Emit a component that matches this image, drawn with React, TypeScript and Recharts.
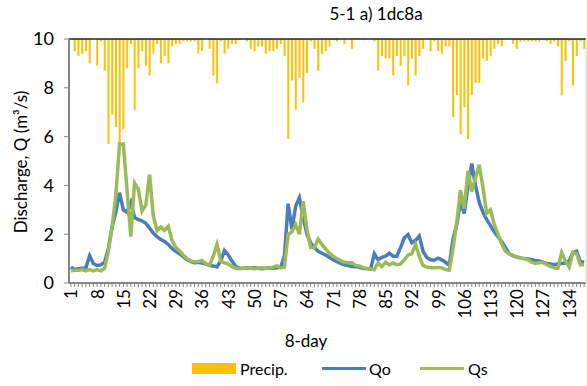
import * as React from 'react';
import { Bar, ComposedChart, Line, ReferenceLine, XAxis, YAxis } from 'recharts';

// 8-day periods 1..138
const periods = Array.from({ length: 138 }, (_, i) => i + 1);

// precipitation, drawn downward from the top (hidden reversed axis, 0-100)
const precip = [
  0, 5, 7, 6, 5, 10, 0, 11, 1, 13, 43, 31, 36, 44, 37, 12, 2, 29, 12, 5,
  11, 15, 6, 2, 10, 7, 10, 3, 2, 2, 1, 1, 1, 1, 6, 5, 0, 4, 15, 18,
  1, 6, 4, 2, 2, 0.5, 0, 1, 4, 5, 3, 3, 6, 5, 5, 4, 2, 7, 41, 17,
  29, 16, 26, 14, 1, 4, 13, 6, 5, 3, 0.5, 1, 0, 2, 0, 4, 0, 0, 0.5, 0,
  0, 1, 13, 7, 8, 8, 15, 7, 11, 7, 19, 8, 15, 7, 4, 0, 5, 1, 5, 6,
  3, 3, 32, 23, 39, 28, 41, 23, 18, 18, 8, 9, 7, 4, 2, 3, 0, 0, 2, 4,
  1, 1, 1, 1, 1, 1, 0.5, 1, 2, 1, 3, 23, 9, 1, 19, 7, 1, 4
];

// observed discharge
const qo = [
  0.65, 0.55, 0.58, 0.6, 0.62, 1.12, 0.8, 0.72, 0.74, 0.85, 1.4, 2.3, 2.9, 3.7, 3.0, 2.9, 3.3, 2.68, 2.6, 2.55,
  2.45, 2.25, 2.05, 1.9, 1.78, 1.7, 1.58, 1.42, 1.3, 1.2, 1.08, 0.95, 0.88, 0.83, 0.85, 0.82, 0.78, 0.72, 0.7, 0.66,
  0.9, 1.33, 1.15, 0.9, 0.68, 0.6, 0.6, 0.62, 0.6, 0.62, 0.6, 0.58, 0.6, 0.62, 0.6, 0.62, 0.65, 1.1, 3.25, 2.2,
  3.15, 3.5, 2.7, 2.0, 1.65, 1.45, 1.3, 1.22, 1.15, 1.05, 0.95, 0.87, 0.8, 0.75, 0.72, 0.68, 0.67, 0.64, 0.6, 0.58,
  0.57, 1.2, 0.95, 1.05, 1.1, 1.22, 1.1, 1.1, 1.45, 1.85, 1.98, 1.65, 1.75, 1.93, 1.3, 1.05, 0.95, 0.93, 1.02, 0.95,
  0.85, 0.72, 1.8, 2.4, 3.3, 2.85, 3.95, 4.9, 4.0, 3.3, 2.9, 2.6, 2.35, 2.1, 1.9, 1.7, 1.45, 1.2, 1.12, 1.06,
  1.03, 1.0, 0.98, 0.95, 0.92, 0.9, 0.85, 0.8, 0.78, 0.75, 0.78, 0.8, 0.82, 0.9, 1.25, 1.3, 0.88, 0.85
];

// simulated discharge
const qs = [
  0.5, 0.52, 0.52, 0.55, 0.5, 0.55, 0.5, 0.55, 0.5, 0.6, 1.3, 2.3, 3.6, 5.7, 5.7, 3.8, 1.9, 4.1, 3.85, 2.95,
  3.2, 4.45, 2.75, 2.15, 2.3, 2.15, 2.32, 1.75, 1.45, 1.32, 1.15, 1.0, 0.9, 0.87, 0.88, 0.92, 0.8, 0.72, 1.1, 1.58,
  0.9, 0.83, 0.78, 0.68, 0.6, 0.58, 0.6, 0.62, 0.6, 0.58, 0.6, 0.62, 0.6, 0.62, 0.65, 0.7, 0.62, 0.65, 2.0, 2.1,
  2.4, 2.0, 3.35, 2.2, 1.45, 1.45, 1.8, 1.58, 1.4, 1.22, 1.1, 1.0, 0.92, 0.85, 0.83, 0.83, 0.72, 0.7, 0.63, 0.6,
  0.57, 0.55, 0.83, 0.68, 0.85, 0.75, 0.82, 0.75, 0.78, 0.95, 1.15, 1.2, 1.58, 1.1, 0.72, 0.65, 0.63, 0.63, 0.64, 0.62,
  0.55, 0.52, 1.4, 2.5, 3.8, 3.05, 4.6, 3.75, 4.3, 4.85, 3.9, 2.85, 3.0, 2.4, 2.0, 1.6, 1.3, 1.2, 1.12, 1.08,
  1.03, 1.0, 0.95, 0.85, 0.8, 0.83, 0.85, 0.75, 0.68, 0.62, 0.6, 1.25, 0.9, 0.65, 1.25, 1.2, 0.75, 0.75
];

const yTicks = [0, 2, 4, 6, 8, 10];

const data = periods.map((d, i) => ({ day: d, p: precip[i], qo: qo[i], qs: qs[i] }));

const FONT = 'Lato, "Open Sans", sans-serif';

function DayTick(props: any) {
  const { x, y, payload } = props;
  const labelled = (payload.value - 1) % 7 === 0;
  return (
    <g>
      <line x1={x} x2={x} y1={y} y2={y + 4} stroke="#868686" strokeWidth={1} />
      {labelled && (
        <text
          x={x}
          y={y + 6}
          transform={`rotate(-90, ${x}, ${y + 6})`}
          textAnchor="end"
          dominantBaseline="central"
          fontSize={17}
          fontFamily={FONT}
          fill="#000"
        >
          {payload.value}
        </text>
      )}
    </g>
  );
}

export default function App() {
  return (
    <div style={{ position: 'absolute', left: 0, top: 0, width: 587, height: 386, fontFamily: FONT, color: '#000' }}>
      <ComposedChart width={587} height={386} data={data} margin={{ top: 39, right: 0, bottom: 0, left: 0 }}>
        <XAxis
          dataKey="day"
          height={103}
          interval={0}
          tickLine={false}
          tickSize={0}
          tickMargin={0}
          tick={<DayTick />}
          axisLine={{ stroke: '#868686', strokeWidth: 2 }}
        />
        <YAxis
          yAxisId="q"
          width={69}
          domain={[0, 10]}
          ticks={yTicks}
          tickSize={5}
          tickMargin={10}
          tickLine={{ stroke: '#868686' }}
          axisLine={{ stroke: '#868686', strokeWidth: 2 }}
          tick={{ fontSize: 18, fill: '#000', fontFamily: FONT }}
        />
        <YAxis
          yAxisId="p"
          orientation="right"
          width={1}
          reversed
          domain={[0, 100]}
          tick={false}
          tickLine={false}
          axisLine={{ stroke: '#d9d9d9' }}
        />
        <Bar yAxisId="p" dataKey="p" fill="#FFC000" barSize={2} isAnimationActive={false} />
        <ReferenceLine yAxisId="q" y={10} stroke="#222" strokeWidth={1.5} />
        <Line yAxisId="q" type="linear" dataKey="qo" stroke="#4A7EBB" strokeWidth={3.5} dot={false} isAnimationActive={false} />
        <Line yAxisId="q" type="linear" dataKey="qs" stroke="#9BBB59" strokeWidth={3.5} dot={false} isAnimationActive={false} />
      </ComposedChart>

      <div style={{ position: 'absolute', left: 276, width: 200, top: 3, textAlign: 'center', fontSize: 17 }}>5-1 a) 1dc8a</div>

      <div
        style={{
          position: 'absolute',
          left: 20,
          top: 162,
          transform: 'translate(-50%, -50%) rotate(-90deg)',
          whiteSpace: 'nowrap',
          fontSize: 17
        }}
      >
        Discharge, Q (m³/s)
      </div>

      <div style={{ position: 'absolute', left: 206, width: 200, top: 330, textAlign: 'center', fontSize: 17 }}>8-day</div>

      <div style={{ position: 'absolute', left: 192, top: 357, height: 22, display: 'flex', alignItems: 'center', fontSize: 16 }}>
        <span style={{ display: 'inline-block', width: 44, height: 11, background: '#FFC000', marginRight: 4 }} />
        <span style={{ width: 82 }}>Precip.</span>
        <span style={{ display: 'inline-block', width: 44, height: 3, background: '#4A7EBB', marginRight: 3 }} />
        <span style={{ width: 51 }}>Qo</span>
        <span style={{ display: 'inline-block', width: 44, height: 3, background: '#9BBB59', marginRight: 4 }} />
        <span>Qs</span>
      </div>
    </div>
  );
}
